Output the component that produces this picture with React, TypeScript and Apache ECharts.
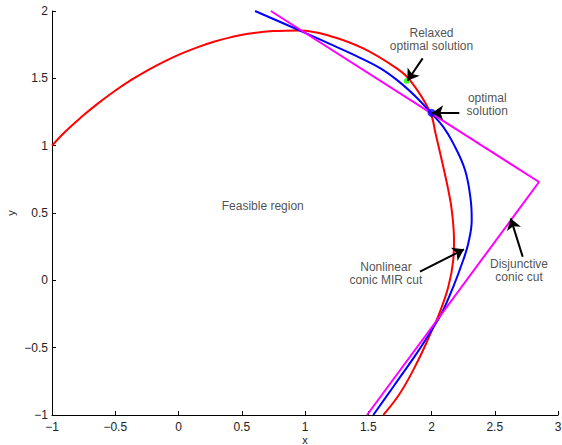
import React, { useEffect, useRef } from "react";
import * as echarts from "echarts";

const redCurve: [number, number][] = [
  [-1, 1.0], [-0.9, 1.1], [-0.768, 1.212], [-0.636, 1.314], [-0.504, 1.406],
  [-0.373, 1.488], [-0.241, 1.561], [-0.109, 1.626], [0.022, 1.683], [0.154, 1.732],
  [0.286, 1.773], [0.417, 1.806], [0.549, 1.831], [0.749, 1.851], [0.96, 1.856],
  [1.198, 1.815], [1.461, 1.722], [1.725, 1.574], [1.83, 1.487], [1.988, 1.252],
  [2.032, 1.091], [2.093, 0.843], [2.133, 0.67], [2.16, 0.522], [2.178, 0.299],
  [2.172, 0.151], [2.133, -0.048], [2.062, -0.245], [1.995, -0.39], [1.883, -0.616],
  [1.751, -0.839], [1.619, -1.0],
];

const blueCurve: [number, number][] = [
  [0.605, 2.0], [0.8, 1.92], [1.0, 1.838], [1.2, 1.754], [1.4, 1.668],
  [1.6, 1.572], [1.75, 1.47], [1.88, 1.36], [1.988, 1.252], [2.093, 1.14],
  [2.172, 1.017], [2.265, 0.819], [2.31, 0.596], [2.318, 0.448], [2.291, 0.275],
  [2.251, 0.151], [2.172, -0.048], [2.08, -0.245], [1.985, -0.393], [1.883, -0.542],
  [1.698, -0.79], [1.54, -1.0],
];

const magentaCut: [number, number][] = [
  [0.73, 2.0], [2.85, 0.73], [1.49, -1.0],
];

const relaxedPoint: [number, number] = [1.804, 1.48];
const optimalPoint: [number, number] = [2.0, 1.245];

const annotationTexts: { text: string; at: [number, number] }[] = [
  { text: "Relaxed\noptimal solution", at: [2.0, 1.79] },
  { text: "optimal\nsolution", at: [2.441, 1.309] },
  { text: "Nonlinear\nconic MIR cut", at: [1.64, 0.049] },
  { text: "Disjunctive\nconic cut", at: [2.692, 0.074] },
  { text: "Feasible region", at: [0.666, 0.554] },
];

const arrows: [number, number][][] = [
  [[1.93, 1.648], [1.81, 1.482]],
  [[2.22, 1.245], [2.005, 1.245]],
  [[1.909, 0.064], [2.257, 0.23]],
  [[2.721, 0.175], [2.626, 0.46]],
];

const FONT = "Liberation Sans, Arial, Helvetica, sans-serif";
const fmt = (v: number) => String(v).replace("-", "\u2212");

export default function App() {
  const ref = useRef<HTMLDivElement>(null);
  useEffect(() => {
    if (!ref.current) return;
    const chart = echarts.init(ref.current, null, { renderer: "svg" });
    const axisCommon = {
      type: "value" as const,
      interval: 0.5,
      nameLocation: "middle" as const,
      nameMoveOverlap: false,
      nameTextStyle: { fontFamily: FONT, fontSize: 11, lineHeight: 11, color: "#222" },
      axisLine: { show: true, onZero: false, lineStyle: { color: "#000", width: 1 } },
      axisTick: { show: true, inside: true, length: 4, lineStyle: { color: "#000" } },
      splitLine: { show: false },
      axisLabel: {
        fontFamily: FONT,
        fontSize: 12,
        color: "#222",
        formatter: fmt,
      },
    };
    chart.setOption({
      animation: false,
      backgroundColor: "#fff",
      grid: {
        left: 52,
        right: 4,
        top: 11,
        bottom: 30,
        containLabel: false,
        outerBoundsMode: "none",
      },
      xAxis: {
        ...axisCommon,
        min: -1,
        max: 3,
        name: "x",
        nameGap: 19,
        axisLabel: { ...axisCommon.axisLabel, margin: 6, showMinLabel: true, showMaxLabel: true },
      },
      yAxis: {
        ...axisCommon,
        min: -1,
        max: 2,
        name: "y",
        nameGap: 36,
        nameRotate: 90,
        axisLabel: { ...axisCommon.axisLabel, margin: 4 },
      },
      series: [
        {
          type: "line",
          data: redCurve,
          smooth: 0.4,
          symbol: "none",
          lineStyle: { color: "#ff0000", width: 2 },
          z: 2,
        },
        {
          type: "line",
          data: blueCurve,
          smooth: 0.4,
          symbol: "none",
          lineStyle: { color: "#0000ff", width: 2 },
          z: 3,
        },
        {
          type: "line",
          data: magentaCut,
          symbol: "none",
          lineStyle: { color: "#ff00ff", width: 2 },
          z: 4,
        },
        {
          type: "scatter",
          data: [relaxedPoint],
          symbolSize: 6,
          itemStyle: { color: "#00ff00" },
          z: 5,
        },
        {
          type: "scatter",
          data: [optimalPoint],
          symbolSize: 8,
          itemStyle: { color: "#0000ff" },
          z: 5,
        },
        {
          type: "lines",
          coordinateSystem: "cartesian2d",
          data: arrows.map((c) => ({ coords: c })),
          symbol: ["none", "arrow"],
          symbolSize: [0, 11],
          lineStyle: { color: "#000", width: 2, opacity: 1, curveness: 0 },
          z: 6,
        },
        {
          type: "scatter",
          data: annotationTexts.map((a) => ({ value: a.at, name: a.text })),
          symbolSize: 1,
          itemStyle: { color: "rgba(0,0,0,0)" },
          label: {
            show: true,
            position: "inside",
            formatter: (p: any) => p.name,
            fontFamily: FONT,
            fontSize: 12,
            lineHeight: 13,
            color: "#222",
            align: "center",
            verticalAlign: "middle",
          },
          z: 7,
        },
      ],
    });
    return () => chart.dispose();
  }, []);
  return <div ref={ref} style={{ width: 562, height: 445, position: "absolute", left: 0, top: 0 }} />;
}
